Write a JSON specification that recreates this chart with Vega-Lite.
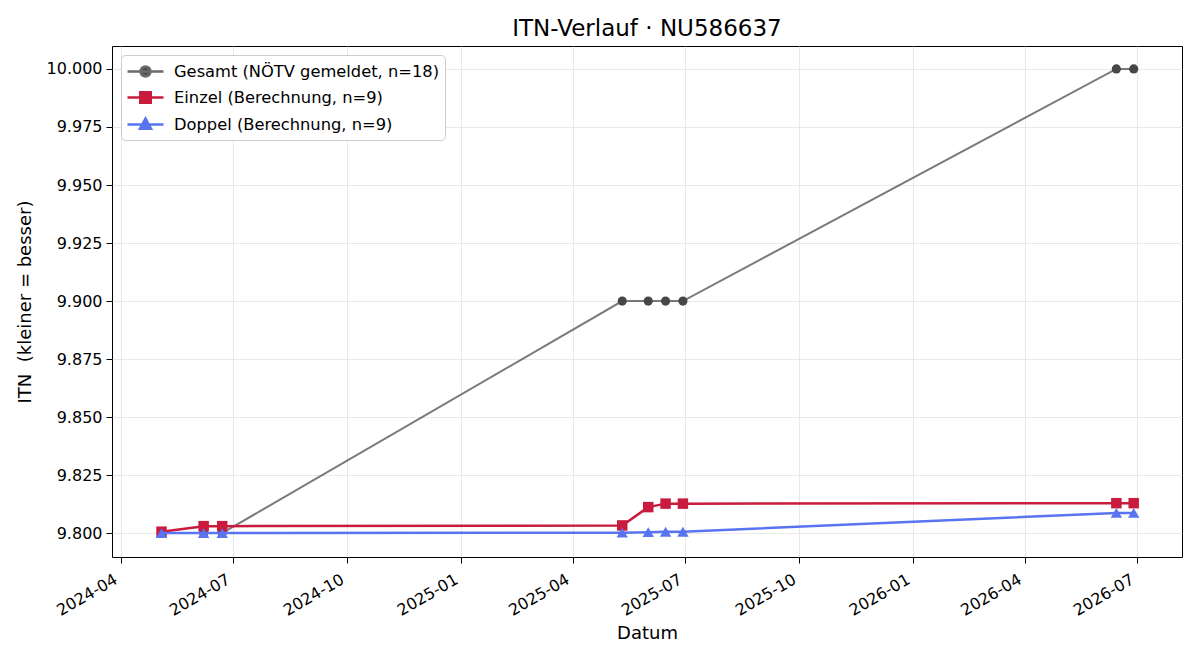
{
  "$schema": "https://vega.github.io/schema/vega-lite/v6.json",
  "width": 1070,
  "height": 511,
  "autosize": "none",
  "padding": {"left": 112, "top": 46, "right": 18, "bottom": 103},
  "background": "white",
  "title": {"text": "ITN-Verlauf · NU586637", "fontSize": 23, "fontWeight": "normal", "font": "DejaVu Sans", "color": "black", "offset": 5},
  "config": {
    "font": "DejaVu Sans",
    "view": {"stroke": "black", "strokeWidth": 1},
    "axis": {
      "labelFont": "DejaVu Sans", "labelFontSize": 16, "labelColor": "black",
      "titleFont": "DejaVu Sans", "titleFontSize": 18, "titleFontWeight": "normal", "titleColor": "black",
      "tickColor": "black", "tickSize": 6, "domainColor": "black",
      "gridColor": "#e3e3e3", "gridWidth": 0.8
    }
  },
  "data": {
    "values": [
      {"datum": "2024-05-04T00:00:00", "serie": "Gesamt (NÖTV gemeldet, n=18)", "itn": 9.8},
      {"datum": "2024-06-07T00:00:00", "serie": "Gesamt (NÖTV gemeldet, n=18)", "itn": 9.8},
      {"datum": "2024-06-22T00:00:00", "serie": "Gesamt (NÖTV gemeldet, n=18)", "itn": 9.8},
      {"datum": "2025-05-11T00:00:00", "serie": "Gesamt (NÖTV gemeldet, n=18)", "itn": 9.9},
      {"datum": "2025-06-01T00:00:00", "serie": "Gesamt (NÖTV gemeldet, n=18)", "itn": 9.9},
      {"datum": "2025-06-15T00:00:00", "serie": "Gesamt (NÖTV gemeldet, n=18)", "itn": 9.9},
      {"datum": "2025-06-29T00:00:00", "serie": "Gesamt (NÖTV gemeldet, n=18)", "itn": 9.9},
      {"datum": "2026-06-14T00:00:00", "serie": "Gesamt (NÖTV gemeldet, n=18)", "itn": 10.0},
      {"datum": "2026-06-28T00:00:00", "serie": "Gesamt (NÖTV gemeldet, n=18)", "itn": 10.0},
      {"datum": "2024-05-04T00:00:00", "serie": "Einzel (Berechnung, n=9)", "itn": 9.8006},
      {"datum": "2024-06-07T00:00:00", "serie": "Einzel (Berechnung, n=9)", "itn": 9.803},
      {"datum": "2024-06-22T00:00:00", "serie": "Einzel (Berechnung, n=9)", "itn": 9.803},
      {"datum": "2025-05-11T00:00:00", "serie": "Einzel (Berechnung, n=9)", "itn": 9.8033},
      {"datum": "2025-06-01T00:00:00", "serie": "Einzel (Berechnung, n=9)", "itn": 9.8112},
      {"datum": "2025-06-15T00:00:00", "serie": "Einzel (Berechnung, n=9)", "itn": 9.8127},
      {"datum": "2025-06-29T00:00:00", "serie": "Einzel (Berechnung, n=9)", "itn": 9.8127},
      {"datum": "2026-06-14T00:00:00", "serie": "Einzel (Berechnung, n=9)", "itn": 9.8129},
      {"datum": "2026-06-28T00:00:00", "serie": "Einzel (Berechnung, n=9)", "itn": 9.8129},
      {"datum": "2024-05-04T00:00:00", "serie": "Doppel (Berechnung, n=9)", "itn": 9.8},
      {"datum": "2024-06-07T00:00:00", "serie": "Doppel (Berechnung, n=9)", "itn": 9.8},
      {"datum": "2024-06-22T00:00:00", "serie": "Doppel (Berechnung, n=9)", "itn": 9.8},
      {"datum": "2025-05-11T00:00:00", "serie": "Doppel (Berechnung, n=9)", "itn": 9.8002},
      {"datum": "2025-06-01T00:00:00", "serie": "Doppel (Berechnung, n=9)", "itn": 9.8004},
      {"datum": "2025-06-15T00:00:00", "serie": "Doppel (Berechnung, n=9)", "itn": 9.8006},
      {"datum": "2025-06-29T00:00:00", "serie": "Doppel (Berechnung, n=9)", "itn": 9.8006},
      {"datum": "2026-06-14T00:00:00", "serie": "Doppel (Berechnung, n=9)", "itn": 9.8087},
      {"datum": "2026-06-28T00:00:00", "serie": "Doppel (Berechnung, n=9)", "itn": 9.8087}
    ]
  },
  "encoding": {
    "x": {
      "field": "datum", "type": "temporal", "title": "Datum",
      "scale": {"domain": [{"year": 2024, "month": 3, "date": 25}, {"year": 2026, "month": 8, "date": 6}]},
      "axis": {
        "values": [
          {"year": 2024, "month": 4, "date": 1}, {"year": 2024, "month": 7, "date": 1}, {"year": 2024, "month": 10, "date": 1},
          {"year": 2025, "month": 1, "date": 1}, {"year": 2025, "month": 4, "date": 1}, {"year": 2025, "month": 7, "date": 1},
          {"year": 2025, "month": 10, "date": 1}, {"year": 2026, "month": 1, "date": 1}, {"year": 2026, "month": 4, "date": 1},
          {"year": 2026, "month": 7, "date": 1}
        ],
        "format": "%Y-%m", "labelAngle": -30, "labelAlign": "right", "labelBaseline": "top",
        "labelPadding": 8, "labelOffset": -9, "titlePadding": 6, "domain": false
      }
    },
    "y": {
      "field": "itn", "type": "quantitative", "title": "ITN\u00a0\u00a0(kleiner = besser)",
      "scale": {"domain": [9.7897, 10.0099], "nice": false, "zero": false},
      "axis": {
        "values": [9.8, 9.825, 9.85, 9.875, 9.9, 9.925, 9.95, 9.975, 10.0],
        "format": ".3f", "titlePadding": 12, "domain": false, "labelPadding": 4
      }
    }
  },
  "layer": [
    {
      "transform": [{"filter": "test(/^Gesamt/, datum.serie)"}],
      "mark": {"type": "line", "strokeWidth": 2, "opacity": 0.72, "color": "#474747"}
    },
    {
      "transform": [{"filter": "test(/^Gesamt/, datum.serie)"}],
      "mark": {"type": "point", "filled": true, "size": 85, "opacity": 1, "shape": "circle", "color": "#474747"}
    },
    {
      "transform": [{"filter": "test(/^Einzel/, datum.serie)"}],
      "mark": {"type": "line", "strokeWidth": 2.5, "opacity": 1, "color": "#c81b3d"}
    },
    {
      "transform": [{"filter": "test(/^Einzel/, datum.serie)"}],
      "mark": {"type": "point", "filled": true, "size": 110, "opacity": 1, "shape": "square", "color": "#c81b3d"}
    },
    {
      "transform": [{"filter": "test(/^Doppel/, datum.serie)"}],
      "mark": {"type": "line", "strokeWidth": 2.5, "opacity": 1, "color": "#5874f0"}
    },
    {
      "transform": [{"filter": "test(/^Doppel/, datum.serie)"}],
      "mark": {"type": "point", "filled": true, "size": 130, "opacity": 1, "shape": "triangle-up", "color": "#5874f0"}
    },
    {
      "transform": [{"filter": "false"}],
      "mark": {"type": "point", "filled": true, "opacity": 1, "strokeWidth": 2.5},
      "encoding": {
        "shape": {
          "field": "serie", "type": "nominal",
          "scale": {
            "domain": ["Gesamt (NÖTV gemeldet, n=18)", "Einzel (Berechnung, n=9)", "Doppel (Berechnung, n=9)"],
            "range": [
              "M-2,0H2M-0.55,0A0.55,0.55,0,1,0,0.55,0A0.55,0.55,0,1,0,-0.55,0Z",
              "M-2,0H2M-0.58,-0.58H0.58V0.58H-0.58Z",
              "M-2,0H2M0,-0.66L0.62,0.48H-0.62Z"
            ]
          },
          "legend": {
            "title": null, "orient": "top-left", "offset": 9,
            "fillColor": "white", "strokeColor": "#cccccc", "cornerRadius": 4, "padding": 6,
            "labelFont": "DejaVu Sans", "labelFontSize": 16.3, "labelColor": "black", "labelOffset": 18, "labelLimit": 500,
            "symbolSize": 324, "symbolOffset": 8, "rowPadding": 5, "symbolStrokeWidth": 2.5
          }
        },
        "fill": {
          "field": "serie", "type": "nominal",
          "scale": {
            "domain": ["Gesamt (NÖTV gemeldet, n=18)", "Einzel (Berechnung, n=9)", "Doppel (Berechnung, n=9)"],
            "range": ["#505050", "#c81b3d", "#5874f0"]
          },
          "legend": {
            "title": null, "orient": "top-left", "offset": 9,
            "fillColor": "white", "strokeColor": "#cccccc", "cornerRadius": 4, "padding": 6,
            "labelFont": "DejaVu Sans", "labelFontSize": 16.3, "labelColor": "black", "labelOffset": 18, "labelLimit": 500,
            "symbolSize": 324, "symbolOffset": 8, "rowPadding": 5, "symbolStrokeWidth": 2.5
          }
        },
        "stroke": {
          "field": "serie", "type": "nominal",
          "scale": {
            "domain": ["Gesamt (NÖTV gemeldet, n=18)", "Einzel (Berechnung, n=9)", "Doppel (Berechnung, n=9)"],
            "range": ["#6a6a6a", "#c81b3d", "#5874f0"]
          },
          "legend": {
            "title": null, "orient": "top-left", "offset": 9,
            "fillColor": "white", "strokeColor": "#cccccc", "cornerRadius": 4, "padding": 6,
            "labelFont": "DejaVu Sans", "labelFontSize": 16.3, "labelColor": "black", "labelOffset": 18, "labelLimit": 500,
            "symbolSize": 324, "symbolOffset": 8, "rowPadding": 5, "symbolStrokeWidth": 2.5
          }
        }
      }
    }
  ]
}
